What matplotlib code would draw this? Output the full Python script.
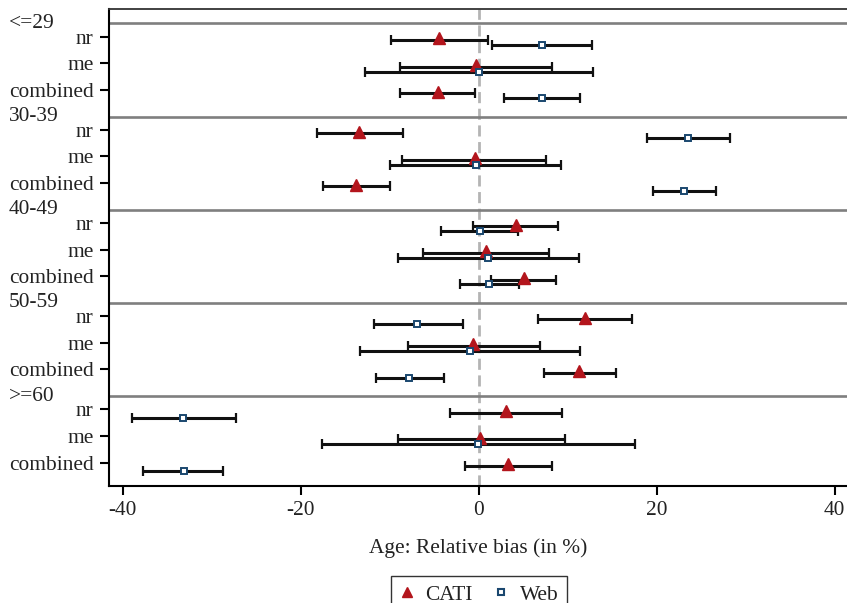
import matplotlib
matplotlib.use('Agg')
import matplotlib.pyplot as plt
import numpy as np
from matplotlib import transforms
from matplotlib.lines import Line2D

plt.rcParams['font.family'] = ['Liberation Serif', 'DejaVu Serif']

# ---- data ----
groups = ['<=29', '30-39', '40-49', '50-59', '>=60']
rows = ['nr', 'me', 'combined']

cati_est = [-4.5, -0.3, -4.6,   -13.4, -0.4, -13.8,   4.2, 0.8, 5.1,    12.0, -0.6, 11.3,   3.1, 0.2, 3.3]
cati_lo  = [-9.8, -8.8, -8.8,   -18.2, -8.6, -17.5,  -0.6, -6.2, 1.4,    6.7, -7.9, 7.3,   -3.2, -9.1, -1.5]
cati_hi  = [1.0, 8.3, -0.4,     -8.5, 7.6, -10.0,     8.9, 7.9, 8.7,    17.2, 6.9, 15.4,    9.4, 9.7, 8.2]

web_est = [7.1, 0.0, 7.1,       23.5, -0.3, 23.1,     0.1, 1.0, 1.2,    -6.9, -1.0, -7.8,  -33.2, -0.1, -33.1]
web_lo  = [1.5, -12.8, 2.8,     18.9, -10.0, 19.6,   -4.2, -9.1, -2.1, -11.8, -13.3, -11.5, -39.0, -17.6, -37.7]
web_hi  = [12.7, 12.8, 11.4,    28.2, 9.3, 26.7,      4.4, 11.3, 4.5,   -1.8, 11.4, -3.9,  -27.3, 17.6, -28.7]

xticks = [-40, -20, 0, 20, 40]

# ---- layout ----
W, H = 847, 603
fig = plt.figure(figsize=(W / 100, H / 100), dpi=100)
left_px, top_px, bottom_px = 108.5, 9.0, 485.7
ax = fig.add_axes([left_px / W, 1 - bottom_px / H, 1 - left_px / W, (bottom_px - top_px) / H])

red = '#b3151c'
navy = '#1a476f'

seps = np.array([3.5 * g for g in range(len(groups))])
row_pos = np.array([s + 0.5 + i for s in seps for i in range(len(rows))])
cati_y = row_pos + 0.125
web_y = row_pos + 0.31

ce = np.array(cati_est); cl = np.array(cati_lo); ch = np.array(cati_hi)
we = np.array(web_est); wl = np.array(web_lo); wh = np.array(web_hi)

ax.axvline(0, color='#b4b4b4', lw=2.0, ls=(0, (4, 2)), zorder=1)
for s in seps:
    ax.axhline(s, color='#7f7f7f', lw=1.9, zorder=1)

ax.errorbar(ce, cati_y, xerr=[ce - cl, ch - ce], fmt='none', ecolor='#111111',
            elinewidth=2.2, capsize=3.8, capthick=1.6, zorder=2)
ax.errorbar(we, web_y, xerr=[we - wl, wh - we], fmt='none', ecolor='#111111',
            elinewidth=2.2, capsize=3.8, capthick=1.6, zorder=2)
ax.plot(ce, cati_y - 0.06, ls='none', marker='^', ms=9, color=red, mec=red, zorder=3)
ax.plot(we, web_y, ls='none', marker='s', ms=5.0, mfc='white', mec=navy, mew=1.4, zorder=4)

ax.set_xlim(-41.6, 41.4)
ax.set_ylim(17.37, -0.54)

ax.set_xticks(xticks)
ax.set_xticklabels([str(t) for t in xticks])
ax.set_yticks(row_pos)
ax.set_yticklabels(rows * len(groups))
ax.tick_params(axis='both', labelsize=15.4, width=1.5, length=6.2, direction='out', colors='black')
ax.tick_params(axis='y', pad=4.6)
ax.tick_params(axis='x', pad=5)
for lab in ax.get_xticklabels() + ax.get_yticklabels():
    lab.set_color('#222222')

for side in ['left', 'bottom']:
    ax.spines[side].set_linewidth(1.5)
    ax.spines[side].set_color('black')
ax.spines['top'].set_linewidth(1.3)
ax.spines['top'].set_color('#333333')
ax.spines['right'].set_visible(False)

ax.set_xlabel('Age: Relative bias (in %)', fontsize=15.4, labelpad=13, color='#222222')

trans = transforms.blended_transform_factory(fig.transFigure, ax.transData)
for g, s in zip(groups, seps):
    ax.text(8.5 / W, s, g, transform=trans, ha='left', va='center', fontsize=15.4,
            color='#222222', clip_on=False)

handles = [Line2D([], [], ls='none', marker='^', ms=7, color=red),
           Line2D([], [], ls='none', marker='s', ms=5, mfc='white', mec=navy, mew=1.5)]
leg = fig.legend(handles, ['CATI', 'Web'], loc='upper center', bbox_to_anchor=(479 / W, 1 - 576 / H),
                 ncol=2, frameon=True, fancybox=False, edgecolor='black', fontsize=15.4,
                 handlelength=0.7, handletextpad=0.5, columnspacing=1.0, borderpad=0.4,
                 borderaxespad=0)
leg.get_frame().set_linewidth(1.0)
for t in leg.get_texts():
    t.set_color('#222222')

fig.savefig('out.png', dpi=100)
